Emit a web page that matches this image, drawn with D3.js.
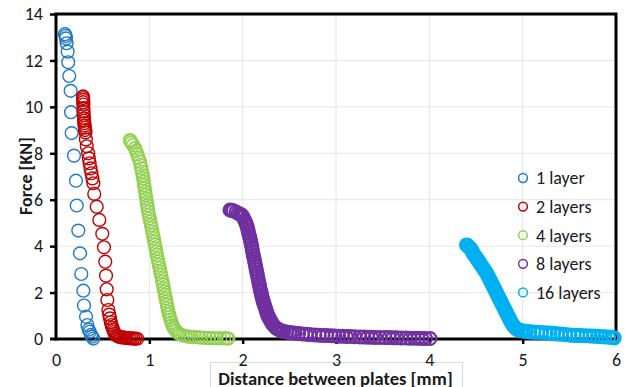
<!DOCTYPE html>
<html>
<head>
<meta charset="utf-8">
<script src="https://cdn.jsdelivr.net/npm/d3@7/dist/d3.min.js"></script>
<style>
  body { margin: 0; background: #fff; }
  svg { display: block; }
  text { font-family: Carlito, Calibri, Lato, sans-serif; fill: #1a1a1a; }
</style>
</head>
<body>
<svg id="chart" width="626" height="387"></svg>
<script>
// Force vs. plate distance for stacks of 1, 2, 4, 8 and 16 layers: [distance mm, force kN]
const layer1 = [
  [0.096,13.13],[0.104,13.05],[0.107,12.95],[0.114,12.74],[0.125,12.38],[0.131,11.92],
  [0.142,11.33],[0.157,10.69],[0.161,9.77],[0.168,8.87],[0.193,7.9],[0.214,6.82],
  [0.222,5.75],[0.239,4.67],[0.257,3.69],[0.271,2.8],[0.293,2.08],[0.3,1.44],
  [0.322,0.96],[0.336,0.6],[0.35,0.4],[0.361,0.31],[0.375,0.18],[0.386,0.1],[0.4,0.02]
];
const layer2 = [
  [0.29,10.45],[0.29,10.38],[0.292,10.3],[0.292,10.2],[0.294,10.1],[0.294,9.95],[0.296,9.8],
  [0.298,9.65],[0.3,9.5],[0.302,9.4],[0.304,9.3],[0.306,9.2],[0.31,9.1],[0.312,9.0],
  [0.316,8.9],[0.32,8.6],[0.33,8.3],[0.345,8.0],[0.352,7.78],[0.36,7.57],[0.37,7.35],
  [0.38,7.14],[0.39,6.92],[0.4,6.71],[0.41,6.25],[0.436,5.7],[0.464,5.13],[0.496,4.53],
  [0.514,3.95],[0.528,3.33],[0.536,2.73],[0.543,2.14],[0.55,1.68],[0.561,1.25],[0.57,1.05],
  [0.579,0.89],[0.588,0.72],[0.596,0.6],[0.605,0.48],[0.614,0.39],[0.623,0.3],[0.632,0.22],
  [0.645,0.16],[0.66,0.12],[0.675,0.1],[0.69,0.08],[0.71,0.07],[0.73,0.06],[0.75,0.05],
  [0.77,0.04],[0.79,0.03],[0.81,0.03],[0.83,0.02],[0.85,0.02],[0.87,0.01]
];
const layer4 = [
  [0.793,8.57],[0.8,8.52],[0.81,8.45],[0.825,8.35],[0.846,8.22],[0.86,8.1],[0.872,7.95],
  [0.884,7.8],[0.9,7.64],[0.907,7.5],[0.914,7.35],[0.921,7.2],[0.928,7.05],[0.935,6.92],
  [0.94,6.77],[0.945,6.63],[0.95,6.49],[0.956,6.34],[0.961,6.2],[0.967,6.05],[0.972,5.9],
  [0.978,5.76],[0.983,5.62],[0.989,5.48],[0.996,5.34],[1.003,5.2],[1.01,5.05],[1.018,4.91],
  [1.025,4.77],[1.032,4.62],[1.04,4.48],[1.047,4.34],[1.054,4.19],[1.061,4.05],[1.068,3.9],
  [1.075,3.76],[1.082,3.62],[1.089,3.47],[1.096,3.33],[1.103,3.19],[1.111,3.05],[1.118,2.9],
  [1.126,2.76],[1.133,2.62],[1.14,2.47],[1.147,2.33],[1.154,2.18],[1.161,2.04],[1.168,1.9],
  [1.175,1.75],[1.182,1.61],[1.189,1.47],[1.196,1.32],[1.203,1.18],[1.211,1.06],[1.22,0.94],
  [1.228,0.83],[1.237,0.71],[1.246,0.6],[1.258,0.5],[1.272,0.41],[1.29,0.33],[1.31,0.25],
  [1.33,0.2],[1.355,0.16],[1.385,0.13],[1.418,0.1],[1.45,0.09],[1.49,0.08],[1.53,0.07],
  [1.561,0.06],[1.6,0.05],[1.64,0.05],[1.68,0.04],[1.72,0.03],[1.76,0.03],[1.8,0.03],
  [1.83,0.03],[1.846,0.02]
];
const layer8 = [
  [1.864,5.56],[1.88,5.55],[1.9,5.52],[1.929,5.47],[1.95,5.42],[1.97,5.38],[1.99,5.34],
  [2.005,5.25],[2.02,5.12],[2.032,5.02],[2.043,4.91],[2.05,4.8],[2.057,4.68],[2.064,4.57],
  [2.072,4.45],[2.079,4.34],[2.085,4.22],[2.091,4.1],[2.097,3.98],[2.103,3.86],[2.108,3.74],
  [2.114,3.62],[2.12,3.5],[2.126,3.38],[2.132,3.26],[2.138,3.14],[2.144,3.02],[2.15,2.9],
  [2.156,2.78],[2.162,2.66],[2.168,2.54],[2.174,2.42],[2.18,2.3],[2.186,2.18],[2.192,2.08],
  [2.198,1.99],[2.204,1.89],[2.209,1.8],[2.215,1.7],[2.221,1.61],[2.229,1.51],[2.237,1.42],
  [2.245,1.32],[2.253,1.22],[2.26,1.13],[2.268,1.03],[2.278,0.95],[2.288,0.87],[2.298,0.8],
  [2.308,0.73],[2.318,0.66],[2.328,0.6],[2.345,0.53],[2.36,0.47],[2.38,0.42],[2.4,0.38],
  [2.418,0.34],[2.44,0.32],[2.47,0.3],[2.5,0.28],[2.53,0.27],[2.561,0.25],[2.6,0.24],
  [2.64,0.22],[2.68,0.21],[2.72,0.19],[2.775,0.17],[2.82,0.16],[2.86,0.15],[2.9,0.15],
  [2.95,0.14],[2.989,0.13],[3.03,0.12],[3.07,0.12],[3.11,0.11],[3.15,0.11],[3.2,0.1],
  [3.257,0.09],[3.3,0.09],[3.34,0.08],[3.38,0.08],[3.42,0.07],[3.47,0.07],[3.525,0.06],
  [3.57,0.06],[3.61,0.05],[3.65,0.05],[3.7,0.04],[3.75,0.04],[3.793,0.03],[3.84,0.03],
  [3.88,0.03],[3.92,0.02],[3.96,0.02],[4.007,0.02]
];
const layer16 = [
  [4.4,4.05],[4.41,4.02],[4.42,3.98],[4.435,3.92],[4.45,3.85],[4.46,3.78],[4.471,3.69],
  [4.485,3.6],[4.5,3.52],[4.514,3.43],[4.528,3.35],[4.543,3.26],[4.557,3.17],[4.572,3.09],
  [4.586,3.0],[4.6,2.92],[4.615,2.83],[4.626,2.74],[4.636,2.66],[4.647,2.57],[4.657,2.49],
  [4.668,2.4],[4.679,2.31],[4.69,2.23],[4.7,2.14],[4.711,2.06],[4.722,1.97],[4.733,1.88],
  [4.743,1.8],[4.754,1.71],[4.765,1.63],[4.775,1.54],[4.786,1.45],[4.797,1.37],[4.808,1.28],
  [4.818,1.2],[4.829,1.11],[4.84,1.02],[4.851,0.94],[4.861,0.85],[4.872,0.77],[4.883,0.68],
  [4.897,0.6],[4.911,0.53],[4.925,0.47],[4.939,0.42],[4.953,0.39],[4.98,0.36],[5.01,0.34],
  [5.04,0.33],[5.079,0.31],[5.12,0.3],[5.16,0.29],[5.2,0.28],[5.25,0.26],[5.293,0.25],
  [5.33,0.24],[5.37,0.22],[5.41,0.21],[5.46,0.19],[5.507,0.17],[5.55,0.16],[5.59,0.16],
  [5.63,0.15],[5.68,0.14],[5.721,0.13],[5.76,0.12],[5.8,0.11],[5.84,0.1],[5.88,0.09],
  [5.92,0.08],[5.957,0.07],[5.98,0.05]
];

const seriesNames = ["1 layer", "2 layers", "4 layers", "8 layers", "16 layers"];
const seriesData = [layer1, layer2, layer4, layer8, layer16];
const seriesColors = ["#1f78c8", "#c00000", "#92d050", "#7030a0", "#00b0f0"];
const xTicks = [0, 1, 2, 3, 4, 5, 6];
const yTicks = [0, 2, 4, 6, 8, 10, 12, 14];
const xTitle = "Distance between plates [mm]";
const yTitle = "Force [KN]";

const svg = d3.select("#chart");
const plot = { left: 56, right: 616, top: 14, bottom: 339 };

const x = d3.scaleLinear().domain([0, 6]).range([plot.left, plot.right]);
const y = d3.scaleLinear().domain([0, 14]).range([plot.bottom, plot.top]);

// light gridlines
svg.append("g")
  .selectAll("line").data(xTicks.slice(1, -1)).join("line")
  .attr("x1", d => x(d)).attr("x2", d => x(d))
  .attr("y1", plot.top).attr("y2", plot.bottom)
  .attr("stroke", "#e6e6e6").attr("stroke-width", 1);
svg.append("g")
  .selectAll("line").data(yTicks.slice(1, -1)).join("line")
  .attr("x1", plot.left).attr("x2", plot.right)
  .attr("y1", d => y(d)).attr("y2", d => y(d))
  .attr("stroke", "#e6e6e6").attr("stroke-width", 1);

// axis-title box under the x axis
svg.append("rect")
  .attr("x", 210.5).attr("y", 362.5).attr("width", 252).attr("height", 30)
  .attr("fill", "#fff").attr("stroke", "#d9d9d9").attr("stroke-width", 1);

// axes
const fontSize = 18;
const yAxis = svg.append("g")
  .attr("transform", `translate(${plot.left},0)`)
  .call(d3.axisLeft(y).tickValues(yTicks).tickFormat(d3.format("d")).tickSize(6).tickPadding(7));
const xAxis = svg.append("g")
  .attr("transform", `translate(0,${plot.bottom})`)
  .call(d3.axisBottom(x).tickValues(xTicks).tickFormat(d3.format("d")).tickSize(5).tickPadding(9));
[xAxis, yAxis].forEach(g => {
  g.select(".domain").remove();
  g.selectAll(".tick line").attr("stroke", "#000").attr("stroke-width", 2.5);
  g.selectAll(".tick text")
    .attr("font-family", "Carlito, Calibri, Lato, sans-serif")
    .attr("font-size", fontSize).attr("fill", "#1a1a1a");
});
xAxis.selectAll(".tick").filter(d => d === 0 || d === 6).select("line").remove();
yAxis.selectAll(".tick").filter(d => d === 0).select("line").remove();

// plot frame: left, top, right edges and the zero line
const frame = svg.append("g").attr("stroke", "#000").attr("stroke-width", 3).attr("fill", "none");
frame.append("path")
  .attr("d", `M${plot.left},${plot.bottom}V${plot.top}H${plot.right}V${plot.bottom}`)
  .attr("stroke-linecap", "square");
frame.append("line")
  .attr("x1", plot.left - 6).attr("x2", plot.right + 1.5)
  .attr("y1", y(0)).attr("y2", y(0));

// data markers: hollow circles
const markerR = 6.4;
const markerStroke = [1.4, 1.4, 1.5, 2.2, 2.4];
seriesData.forEach((data, i) => {
  svg.append("g")
    .selectAll("circle").data(data).join("circle")
    .attr("cx", d => x(d[0])).attr("cy", d => y(d[1]))
    .attr("r", markerR)
    .attr("fill", "none")
    .attr("stroke", seriesColors[i])
    .attr("stroke-width", markerStroke[i]);
});

// legend
const legend = svg.append("g").attr("transform", "translate(523,178)");
seriesNames.forEach((name, i) => {
  const row = legend.append("g").attr("transform", `translate(0,${i * 28.6})`);
  row.append("circle").attr("r", 4.4).attr("fill", "none")
    .attr("stroke", seriesColors[i]).attr("stroke-width", 1.5);
  row.append("text").attr("x", 13).attr("dy", "0.35em")
    .attr("font-size", fontSize).text(name);
});

// axis titles
svg.append("text")
  .attr("x", 335.5).attr("y", 384.5)
  .attr("text-anchor", "middle").attr("font-weight", "bold").attr("font-size", 18.5)
  .text(xTitle);
svg.append("text")
  .attr("transform", "translate(26,176) rotate(-90)")
  .attr("text-anchor", "middle").attr("dy", "0.35em")
  .attr("font-weight", "bold").attr("font-size", 18)
  .text(yTitle);
</script>
</body>
</html>
